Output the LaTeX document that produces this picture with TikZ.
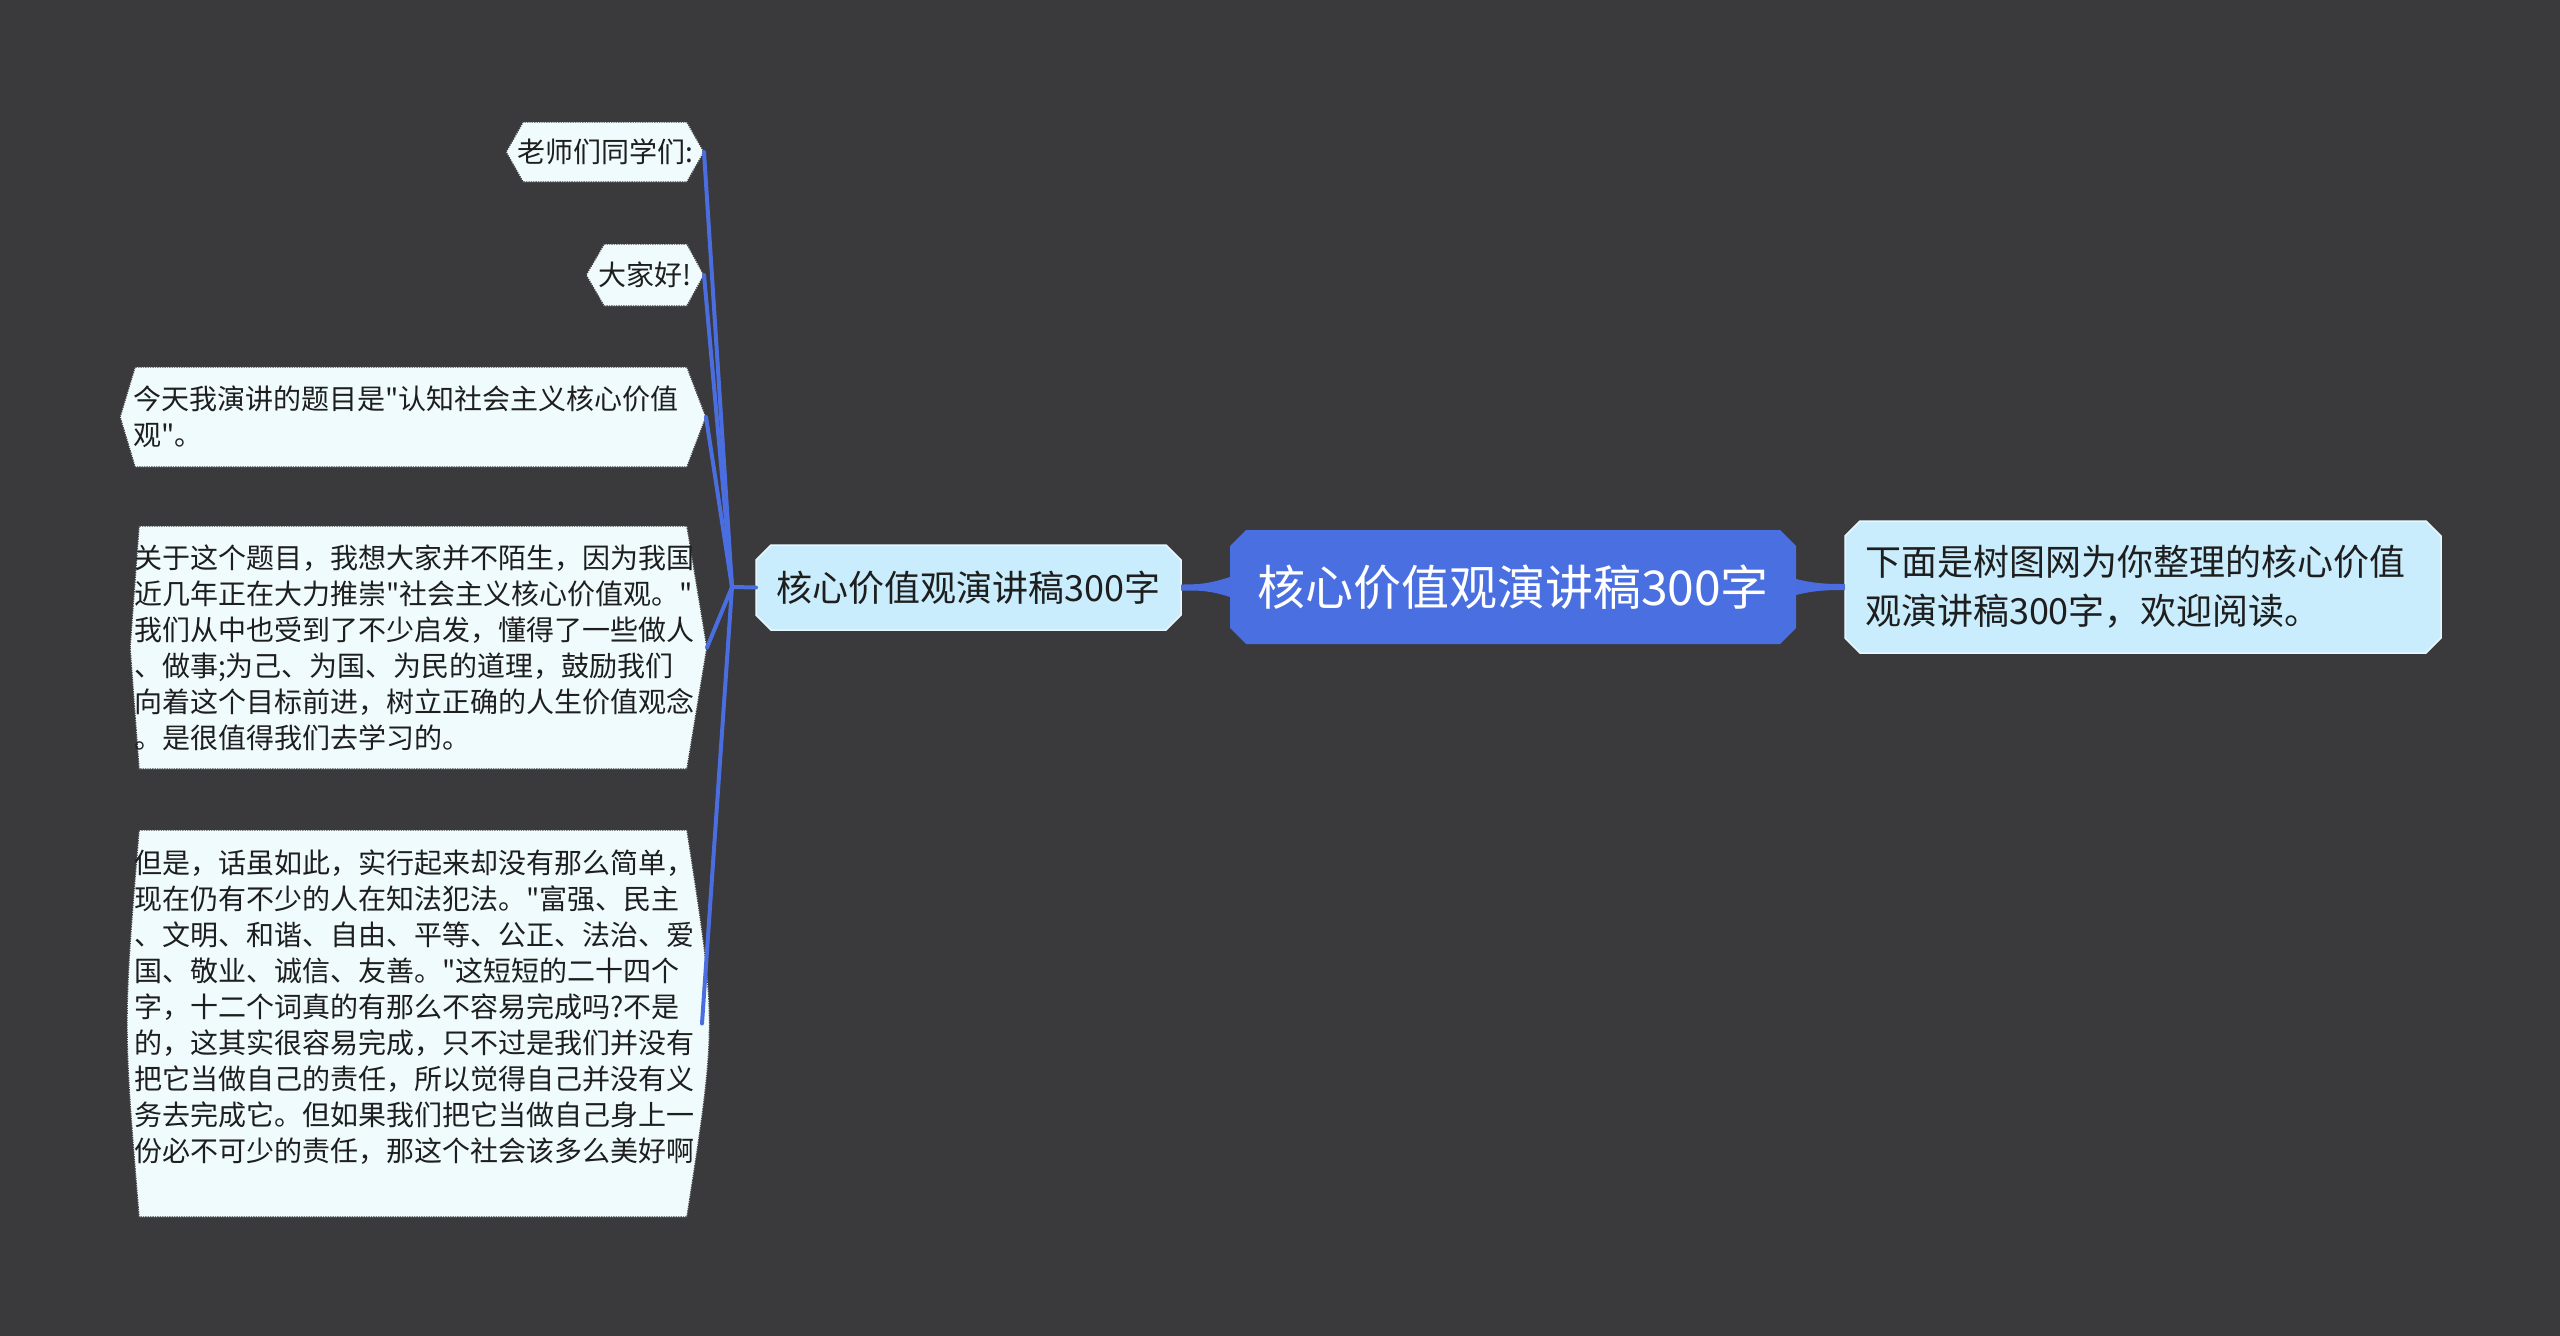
\documentclass[tikz,border=0pt]{standalone}
\usepackage{fontspec}
\setmainfont{Noto Sans CJK SC}[Ligatures=TeXOff]
\usetikzlibrary{calc}
\definecolor{bgc}{HTML}{3A393B}
\definecolor{rootc}{HTML}{4A6FE0}
\definecolor{lonec}{HTML}{C9EDFC}
\definecolor{leafc}{HTML}{F0FBFD}
\definecolor{linec}{HTML}{4A6EDF}
\definecolor{txtc}{HTML}{1E1E1E}
\pgfdeclarelayer{bglayer}
\pgfdeclarelayer{shapelayer}
\pgfsetlayers{bglayer,shapelayer,main}
\hbadness=10000 \hfuzz=200pt
\begin{document}
\begin{tikzpicture}[x=1pt,y=-1pt,
 box/.style={inner sep=0pt, outer sep=0pt, draw=none},
 rootbox/.style={box, minimum width=566pt, minimum height=114pt, text=white, font=\fontsize{48}{56}\selectfont},
 onebox/.style={box, minimum width=425pt, minimum height=85pt, text=txtc, font=\fontsize{36}{44}\selectfont},
 rightbox/.style={box, text width=556pt, inner xsep=20pt, minimum height=132pt, align=left, text=txtc, font=\fontsize{36}{49}\selectfont},
 leafbox/.style={box, text=txtc, font=\fontsize{28}{36}\selectfont},
 leaftext/.style={leafbox, align=left},
 conn/.style={draw=linec, line width=4pt, line cap=round},
 taper/.style={fill=linec},
 rootfill/.style={fill=rootc},
 onefill/.style={fill=lonec, draw=white!55!lonec, line width=1.5pt},
 leaffill/.style={fill=leafc},
 leafline/.style={draw=black!75, line width=1.4pt, densely dotted},
]
\useasboundingbox (0,0) rectangle (2560,1336);
\begin{pgfonlayer}{bglayer}
  \fill[bgc] (0,0) rectangle (2560,1336);
\end{pgfonlayer}

% nodes
\node[rootbox] (root) at (1513,587) {核心价值观演讲稿300字};
\node[onebox] (one) at (968.5,587.5) {核心价值观演讲稿300字};
\node[rightbox] (right) at (2143,587) {下面是树图网为你整理的核心价值\\观演讲稿300字，欢迎阅读。};

\node[leafbox, minimum width=198pt, minimum height=60pt] (l1) at (605,152) {\makebox[150pt]{老师们同学们:}};
\node[leafbox, minimum width=118pt, minimum height=62pt] (l2) at (645,275) {\makebox[80pt]{大家好!}};
\node[leaftext, inner xsep=13pt, text width=560pt, minimum height=100pt] (l3) at (413,417) {今天我演讲的题目是"认知社会主义核心价值\\观"。};
\node[leaftext, inner xsep=4pt, text width=569pt, minimum height=243pt] (l4) at (418.5,647.5) {关于这个题目，我想大家并不陌生，因为我国\\近几年正在大力推崇"社会主义核心价值观。"\\我们从中也受到了不少启发，懂得了一些做人\\、做事;为己、为国、为民的道理，鼓励我们\\向着这个目标前进，树立正确的人生价值观念\\。是很值得我们去学习的。};
\node[leaftext, inner xsep=3pt, text width=565pt, minimum height=387pt] (l5) at (416.5,1023.5) {但是，话虽如此，实行起来却没有那么简单，\\现在仍有不少的人在知法犯法。"富强、民主\\、文明、和谐、自由、平等、公正、法治、爱\\国、敬业、诚信、友善。"这短短的二十四个\\字，十二个词真的有那么不容易完成吗?不是\\的，这其实很容易完成，只不过是我们并没有\\把它当做自己的责任，所以觉得自己并没有义\\务去完成它。但如果我们把它当做自己身上一\\份必不可少的责任，那这个社会该多么美好啊\\\mbox{}};

% shapes behind the nodes
\begin{pgfonlayer}{shapelayer}
  \path[rootfill] (1246,530) -- (1780,530) -- (1796,546) -- (1796,628) -- (1780,644) -- (1246,644) -- (1230,628) -- (1230,546) -- cycle;
  \path[onefill] (771,545) -- (1166,545) -- (1181,560) -- (1181,615) -- (1166,630) -- (771,630) -- (756,615) -- (756,560) -- cycle;
  \path[onefill] (1860,521) -- (2426,521) -- (2441,536) -- (2441,638) -- (2426,653) -- (1860,653) -- (1845,638) -- (1845,536) -- cycle;
  \foreach \p in {leaffill,leafline}{
    \path[\p] (506,152) -- (523,122) -- (687,122) -- (704,152) -- (687,182) -- (523,182) -- cycle;
    \path[\p] (586,275) -- (604,244) -- (687,244) -- (704,275) -- (687,306) -- (604,306) -- cycle;
    \path[\p] (120,417) -- (135,367) -- (687,367) -- (706,417) -- (687,467) -- (135,467) -- cycle;
    \path[\p] (130,647.5) -- (139,526) -- (687,526) -- (707,647.5) -- (687,769) -- (139,769) -- cycle;
    \path[\p] (139,830) -- (687,830) .. controls (717,1023.5) .. (687,1217) -- (139,1217) .. controls (123,1023.5) .. (139,830) -- cycle;
  }
\end{pgfonlayer}

% connectors
\coordinate (J) at (732,587);
\path[taper] ($(root.west)+(0,-10)$) .. controls ($(root.west)+(-22,-3)$) and ($(one.east)+(18,-3)$) .. ($(one.east)+(0,-3)$) -- ($(one.east)+(0,3)$) .. controls ($(one.east)+(18,3)$) and ($(root.west)+(-22,3)$) .. ($(root.west)+(0,10)$) -- cycle;
\path[taper] ($(root.east)+(0,-8)$) .. controls ($(root.east)+(20,-3)$) and ($(right.west)+(-15,-3)$) .. ($(right.west)+(0,-3)$) -- ($(right.west)+(0,3)$) .. controls ($(right.west)+(-15,3)$) and ($(root.east)+(20,3)$) .. ($(root.east)+(0,8)$) -- cycle;
\draw[conn] (one.west) -- (J);
\foreach \n in {l1,l2,l3,l4,l5}{
  \draw[conn] (J) -- (\n.east);
}
\end{tikzpicture}
\end{document}
